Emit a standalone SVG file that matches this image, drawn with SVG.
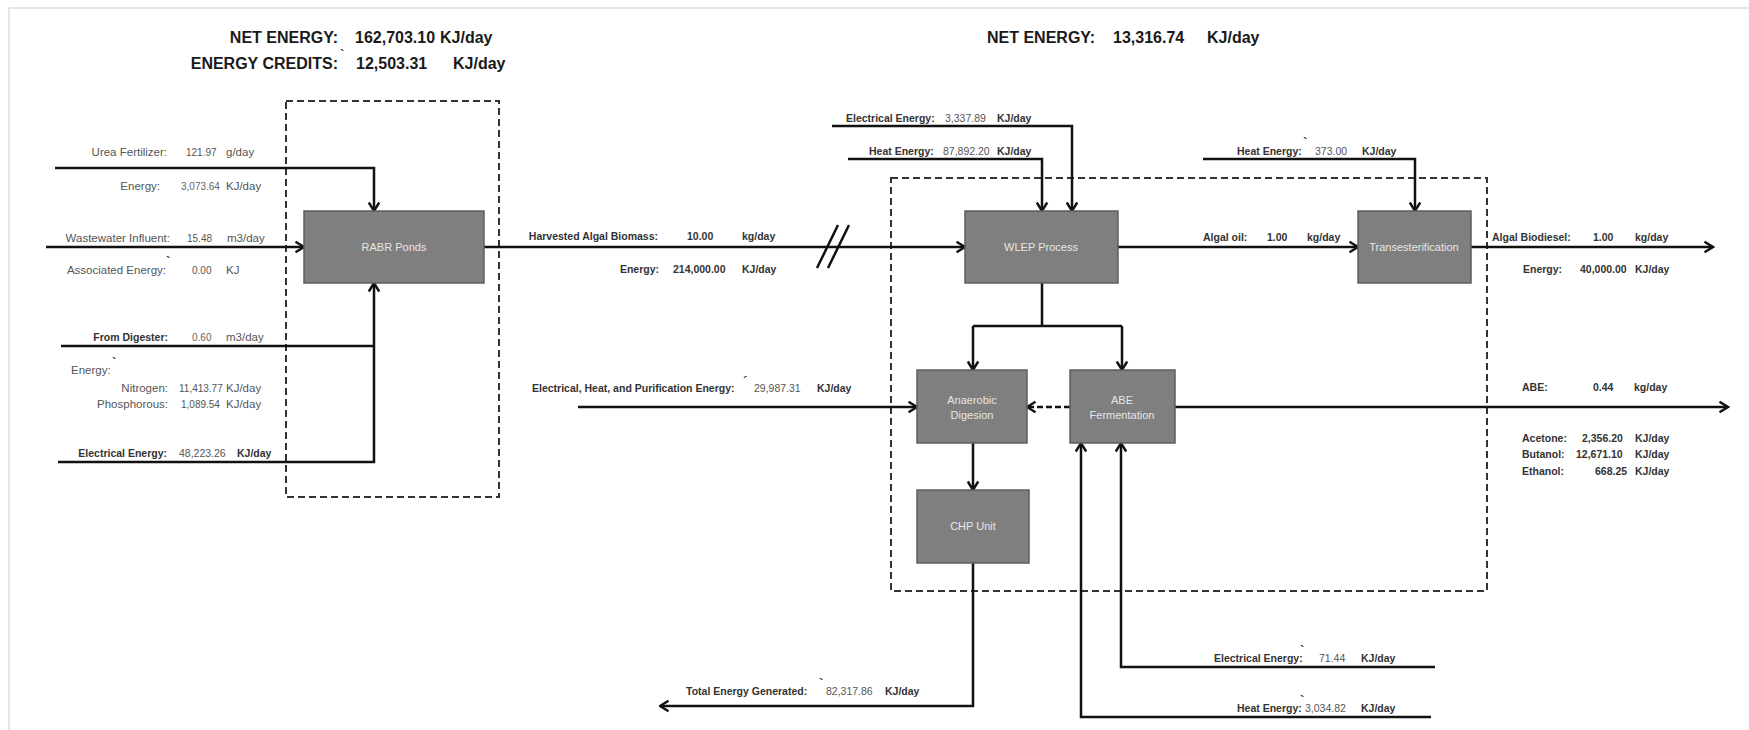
<svg xmlns="http://www.w3.org/2000/svg" width="1749" height="730" viewBox="0 0 1749 730">
<style>
text{font-family:"Liberation Sans",Arial,sans-serif}
.title{font-size:16px;font-weight:bold;fill:#1a1a1a}
.t{font-size:11.5px;fill:#555}
.lv{font-size:10px;fill:#555}
.v{font-size:10px;fill:#666}
.b{font-size:10.5px;font-weight:bold;fill:#333}
.bv{font-size:10.5px;fill:#555}
.n{font-size:11px;fill:#e6e6e6;text-anchor:middle}
.tick{font-size:13px;font-weight:bold;fill:#333}
.box{fill:#7f7f7f;stroke:#5e5e5e;stroke-width:1.5}
.dash{fill:none;stroke:#333;stroke-width:2;stroke-dasharray:7 4}
.c{fill:none;stroke:#111;stroke-width:2.5}
.e{text-anchor:end}
</style>
<defs>
<marker id="ar" markerUnits="userSpaceOnUse" markerWidth="14" markerHeight="14" viewBox="0 0 14 14" refX="12.5" refY="7" orient="auto">
<path d="M4,1.8 L12.5,7 L4,12.2" fill="none" stroke="#111" stroke-width="2.4"/>
</marker>
</defs>

<g id="frame">
<line x1="9" y1="8" x2="1749" y2="8" stroke="#dcdcdc" stroke-width="1.5"/>
<line x1="9" y1="8" x2="9" y2="730" stroke="#dcdcdc" stroke-width="1.5"/>
</g>

<g id="titles">
<text class="title e" x="338" y="43">NET ENERGY:</text>
<text class="title" x="355" y="43">162,703.10</text>
<text class="title" x="440" y="43">KJ/day</text>
<text class="tick" x="340" y="59">`</text>
<text class="title e" x="338" y="69">ENERGY CREDITS:</text>
<text class="title" x="356" y="69">12,503.31</text>
<text class="title" x="453" y="69">KJ/day</text>
<text class="title" x="987" y="43">NET ENERGY:</text>
<text class="title" x="1113" y="43">13,316.74</text>
<text class="title" x="1207" y="43">KJ/day</text>
</g>

<g id="boundaries">
<rect class="dash" x="286" y="101" width="213" height="396"/>
<rect class="dash" x="891" y="178" width="596" height="413"/>
</g>

<g id="connectors">
<path class="c" d="M55,168 H374 V211" marker-end="url(#ar)"/>
<path class="c" d="M46,247 H304" marker-end="url(#ar)"/>
<path class="c" d="M61,346 H374"/>
<path class="c" d="M58,462 H374 V283" marker-end="url(#ar)"/>
<path class="c" d="M484,247 H965" marker-end="url(#ar)"/>
<path class="c" d="M817,268 L838,225 M828,268 L849,225"/>
<path class="c" d="M832,126 H1072 V211" marker-end="url(#ar)"/>
<path class="c" d="M848,159 H1042 V211" marker-end="url(#ar)"/>
<path class="c" d="M1118,247 H1358" marker-end="url(#ar)"/>
<path class="c" d="M1203,159 H1415 V211" marker-end="url(#ar)"/>
<path class="c" d="M1471,247 H1713" marker-end="url(#ar)"/>
<path class="c" d="M1042,283 V326 M973,326 H1122"/>
<path class="c" d="M973,326 V370" marker-end="url(#ar)"/>
<path class="c" d="M1122,326 V370" marker-end="url(#ar)"/>
<path class="c" d="M578,407 H917" marker-end="url(#ar)"/>
<path class="c" d="M1070,407 H1027" stroke-dasharray="6 3" marker-end="url(#ar)"/>
<path class="c" d="M1175,407 H1728" marker-end="url(#ar)"/>
<path class="c" d="M973,443 V490" marker-end="url(#ar)"/>
<path class="c" d="M973,563 V706 H660" marker-end="url(#ar)"/>
<path class="c" d="M1435,667 H1121 V443" marker-end="url(#ar)"/>
<path class="c" d="M1431,717 H1081 V443" marker-end="url(#ar)"/>
</g>

<g id="rabr">
<rect class="box" x="304" y="211" width="180" height="72"/>
<text class="n" x="394" y="251">RABR Ponds</text>
</g>
<g id="wlep">
<rect class="box" x="965" y="211" width="153" height="72"/>
<text class="n" x="1041" y="251">WLEP Process</text>
</g>
<g id="trans">
<rect class="box" x="1358" y="211" width="113" height="72"/>
<text class="n" x="1414" y="251">Transesterification</text>
</g>
<g id="ad">
<rect class="box" x="917" y="370" width="110" height="73"/>
<text class="n" x="972" y="404">Anaerobic</text>
<text class="n" x="972" y="419">Digesion</text>
</g>
<g id="abe">
<rect class="box" x="1070" y="370" width="105" height="73"/>
<text class="n" x="1122" y="404">ABE</text>
<text class="n" x="1122" y="419">Fermentation</text>
</g>
<g id="chp">
<rect class="box" x="917" y="490" width="112" height="73"/>
<text class="n" x="973" y="530">CHP Unit</text>
</g>

<g id="labels-left">
<text class="t e" x="167" y="156">Urea Fertilizer:</text>
<text class="lv" x="186" y="156">121.97</text>
<text class="t" x="226" y="156">g/day</text>
<text class="t e" x="160" y="190">Energy:</text>
<text class="v" x="181" y="190">3,073.64</text>
<text class="t" x="226" y="190">KJ/day</text>
<text class="t e" x="170" y="242">Wastewater Influent:</text>
<text class="lv" x="187" y="242">15.48</text>
<text class="t" x="227" y="242">m3/day</text>
<text class="t e" x="166" y="274">Associated Energy:</text>
<text class="tick" x="166" y="266">`</text>
<text class="lv" x="192" y="274">0.00</text>
<text class="t" x="226" y="274">KJ</text>
<text class="b e" x="168" y="341">From Digester:</text>
<text class="v" x="192" y="341">0.60</text>
<text class="t" x="226" y="341">m3/day</text>
<text class="t" x="71" y="374">Energy:</text>
<text class="tick" x="112" y="367">`</text>
<text class="t e" x="168" y="392">Nitrogen:</text>
<text class="lv" x="179" y="392">11,413.77</text>
<text class="t" x="226" y="392">KJ/day</text>
<text class="t e" x="168" y="408">Phosphorous:</text>
<text class="lv" x="181" y="408">1,089.54</text>
<text class="t" x="226" y="408">KJ/day</text>
<text class="b e" x="167" y="457">Electrical Energy:</text>
<text class="bv" x="179" y="457">48,223.26</text>
<text class="b" x="237" y="457">KJ/day</text>
</g>

<g id="labels-middle">
<text class="b e" x="658" y="240">Harvested Algal Biomass:</text>
<text class="b" x="687" y="240">10.00</text>
<text class="b" x="742" y="240">kg/day</text>
<text class="b e" x="659" y="273">Energy:</text>
<text class="b" x="673" y="273">214,000.00</text>
<text class="b" x="742" y="273">KJ/day</text>
<text class="b" x="846" y="122">Electrical Energy:</text>
<text class="bv" x="945" y="122">3,337.89</text>
<text class="b" x="997" y="122">KJ/day</text>
<text class="b" x="869" y="155">Heat Energy:</text>
<text class="bv" x="943" y="155">87,892.20</text>
<text class="b" x="997" y="155">KJ/day</text>
<text class="b" x="1203" y="241">Algal oil:</text>
<text class="b" x="1267" y="241">1.00</text>
<text class="b" x="1307" y="241">kg/day</text>
<text class="b" x="1237" y="155">Heat Energy:</text>
<text class="tick" x="1303" y="147">`</text>
<text class="bv" x="1315" y="155">373.00</text>
<text class="b" x="1362" y="155">KJ/day</text>
<text class="b" x="532" y="392">Electrical, Heat, and Purification Energy:</text>
<text class="tick" x="743" y="386">´</text>
<text class="bv" x="754" y="392">29,987.31</text>
<text class="b" x="817" y="392">KJ/day</text>
</g>

<g id="labels-right">
<text class="b" x="1492" y="241">Algal Biodiesel:</text>
<text class="b" x="1593" y="241">1.00</text>
<text class="b" x="1635" y="241">kg/day</text>
<text class="b" x="1523" y="273">Energy:</text>
<text class="b" x="1580" y="273">40,000.00</text>
<text class="b" x="1635" y="273">KJ/day</text>
<text class="b" x="1522" y="391">ABE:</text>
<text class="b" x="1593" y="391">0.44</text>
<text class="b" x="1634" y="391">kg/day</text>
<text class="b" x="1522" y="442">Acetone:</text>
<text class="b" x="1582" y="442">2,356.20</text>
<text class="b" x="1635" y="442">KJ/day</text>
<text class="b" x="1522" y="458">Butanol:</text>
<text class="b" x="1576" y="458">12,671.10</text>
<text class="b" x="1635" y="458">KJ/day</text>
<text class="b" x="1522" y="475">Ethanol:</text>
<text class="b" x="1595" y="475">668.25</text>
<text class="b" x="1635" y="475">KJ/day</text>
</g>

<g id="labels-bottom">
<text class="b" x="686" y="695">Total Energy Generated:</text>
<text class="tick" x="819" y="688">`</text>
<text class="bv" x="826" y="695">82,317.86</text>
<text class="b" x="885" y="695">KJ/day</text>
<text class="b" x="1214" y="662">Electrical Energy:</text>
<text class="tick" x="1300" y="655">`</text>
<text class="bv" x="1319" y="662">71.44</text>
<text class="b" x="1361" y="662">KJ/day</text>
<text class="b" x="1237" y="712">Heat Energy:</text>
<text class="tick" x="1300" y="705">`</text>
<text class="bv" x="1305" y="712">3,034.82</text>
<text class="b" x="1361" y="712">KJ/day</text>
</g>
</svg>
